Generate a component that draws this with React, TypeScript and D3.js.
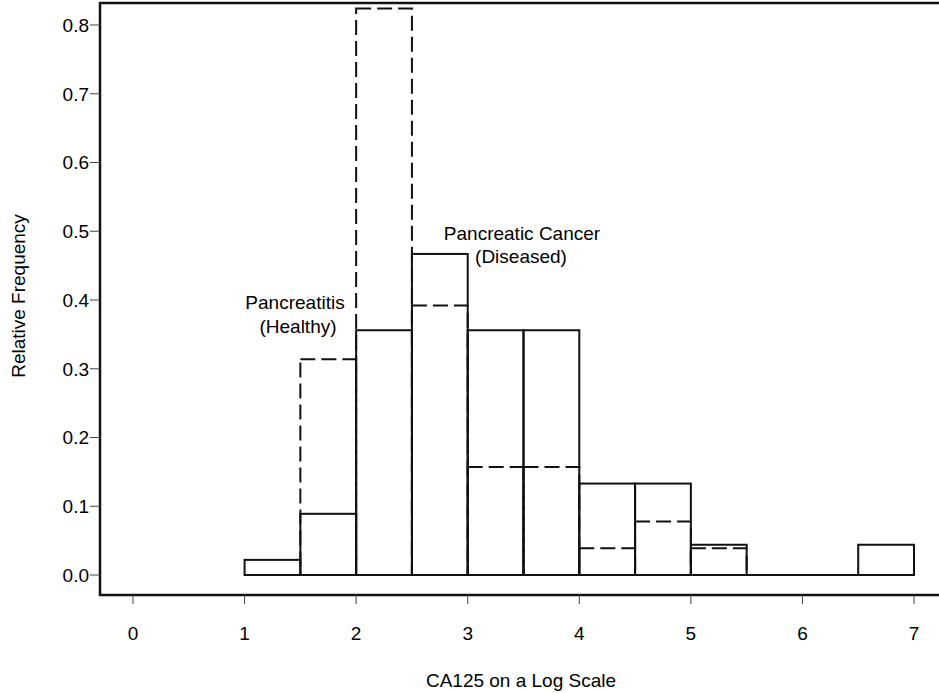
import React, { useEffect, useRef } from 'react';
import * as d3 from 'd3';

// bin left edges (CA125 on log scale), width 0.5
const binStarts = [1, 1.5, 2, 2.5, 3, 3.5, 4, 4.5, 5, 5.5, 6, 6.5];
// pancreatic cancer (diseased) - solid
const diseased = [0.022, 0.089, 0.356, 0.467, 0.356, 0.356, 0.133, 0.133, 0.044, 0, 0, 0.044];
// pancreatitis (healthy) - dashed
const healthy = [0, 0.314, 0.824, 0.392, 0.157, 0.157, 0.039, 0.078, 0.039, 0, 0, 0];
const xTicks = [0, 1, 2, 3, 4, 5, 6, 7];
const yTicks = [0, 0.1, 0.2, 0.3, 0.4, 0.5, 0.6, 0.7, 0.8];

const App = () => {
  const ref = useRef<SVGSVGElement | null>(null);

  useEffect(() => {
    const W = 939;
    const H = 693;
    const frame = { left: 100, top: 3, right: 942, bottom: 595 };
    const font = '"Liberation Sans", Arial, Helvetica, sans-serif';
    const fs = 19;

    const svg = d3.select(ref.current);
    svg.selectAll('*').remove();
    svg.attr('width', W).attr('height', H);

    const x = d3.scaleLinear().domain([0, 7]).range([133, 914]);
    const y = d3.scaleLinear().domain([0, 0.8]).range([575, 25]);
    const binW = 0.5;

    // frame
    svg.append('rect')
      .attr('x', frame.left)
      .attr('y', frame.top)
      .attr('width', frame.right - frame.left)
      .attr('height', frame.bottom - frame.top)
      .attr('fill', 'none')
      .attr('stroke', '#111')
      .attr('stroke-width', 2.5);

    // y axis ticks + labels
    const yg = svg.append('g');
    yg.selectAll('line')
      .data(yTicks)
      .enter()
      .append('line')
      .attr('x1', frame.left - 10)
      .attr('x2', frame.left)
      .attr('y1', d => y(d))
      .attr('y2', d => y(d))
      .attr('stroke', '#444')
      .attr('stroke-width', 1);
    yg.selectAll('text')
      .data(yTicks)
      .enter()
      .append('text')
      .attr('x', frame.left - 11)
      .attr('y', d => y(d))
      .attr('dy', '0.36em')
      .attr('text-anchor', 'end')
      .attr('font-family', font)
      .attr('font-size', fs)
      .text(d => d3.format('.1f')(d));

    // x axis ticks + labels
    const xg = svg.append('g');
    xg.selectAll('line')
      .data(xTicks)
      .enter()
      .append('line')
      .attr('x1', d => x(d))
      .attr('x2', d => x(d))
      .attr('y1', frame.bottom)
      .attr('y2', frame.bottom + 9)
      .attr('stroke', '#444')
      .attr('stroke-width', 1);
    xg.selectAll('text')
      .data(xTicks)
      .enter()
      .append('text')
      .attr('x', d => x(d))
      .attr('y', 640)
      .attr('text-anchor', 'middle')
      .attr('font-family', font)
      .attr('font-size', fs)
      .text(d => d);

    // axis titles
    svg.append('text')
      .attr('x', 521)
      .attr('y', 687)
      .attr('text-anchor', 'middle')
      .attr('font-family', font)
      .attr('font-size', fs)
      .text('CA125 on a Log Scale');
    svg.append('text')
      .attr('transform', 'translate(25,296) rotate(-90)')
      .attr('text-anchor', 'middle')
      .attr('font-family', font)
      .attr('font-size', fs)
      .text('Relative Frequency');

    // healthy bars (dashed)
    svg.append('g')
      .selectAll('rect')
      .data(binStarts.map((b, i) => ({ b, v: healthy[i] })).filter(d => d.v > 0))
      .enter()
      .append('rect')
      .attr('x', d => x(d.b))
      .attr('y', d => y(d.v))
      .attr('width', x(binW) - x(0))
      .attr('height', d => y(0) - y(d.v))
      .attr('fill', 'none')
      .attr('stroke', '#111')
      .attr('stroke-width', 2)
      .attr('stroke-dasharray', '15,6');

    // diseased bars (solid)
    svg.append('g')
      .selectAll('rect')
      .data(binStarts.map((b, i) => ({ b, v: diseased[i] })).filter(d => d.v > 0))
      .enter()
      .append('rect')
      .attr('x', d => x(d.b))
      .attr('y', d => y(d.v))
      .attr('width', x(binW) - x(0))
      .attr('height', d => y(0) - y(d.v))
      .attr('fill', 'none')
      .attr('stroke', '#111')
      .attr('stroke-width', 2);

    // baseline under empty bins
    svg.append('line')
      .attr('x1', x(binStarts[0]))
      .attr('x2', x(binStarts[binStarts.length - 1] + binW))
      .attr('y1', y(0))
      .attr('y2', y(0))
      .attr('stroke', '#111')
      .attr('stroke-width', 2);

    // annotations
    const notes = [
      { t: 'Pancreatic Cancer', x: 522, y: 240 },
      { t: '(Diseased)', x: 521, y: 263 },
      { t: 'Pancreatitis', x: 295, y: 309 },
      { t: '(Healthy)', x: 298, y: 333 },
    ];
    svg.append('g')
      .selectAll('text')
      .data(notes)
      .enter()
      .append('text')
      .attr('x', d => d.x)
      .attr('y', d => d.y)
      .attr('text-anchor', 'middle')
      .attr('font-family', font)
      .attr('font-size', fs)
      .text(d => d.t);
  }, []);

  return (
    <svg
      ref={ref}
      style={{ position: 'absolute', left: 0, top: 0, background: '#fff' }}
    />
  );
};

export default App;
